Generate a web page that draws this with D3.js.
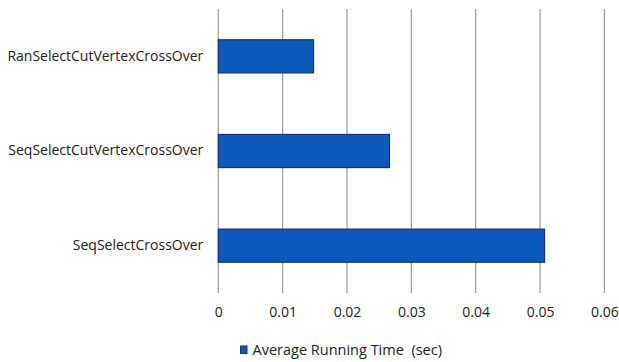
<!DOCTYPE html>
<html>
<head>
<meta charset="utf-8">
<script src="https://cdn.jsdelivr.net/npm/d3@7"></script>
<style>
  html, body { margin: 0; padding: 0; background: #fff; }
  svg { display: block; }
  text { font-family: "Open Sans", "Noto Sans", sans-serif; fill: #222; }
</style>
</head>
<body>
<svg id="chart" width="619" height="362"></svg>
<script>
// Average running time per crossover operator (seconds)
const categories = ["RanSelectCutVertexCrossOver", "SeqSelectCutVertexCrossOver", "SeqSelectCrossOver"];
const runningTime = [0.0148, 0.0266, 0.0507];
const tickValues = [0, 0.01, 0.02, 0.03, 0.04, 0.05, 0.06];
const tickLabels = ["0", "0.01", "0.02", "0.03", "0.04", "0.05", "0.06"];
const seriesName = "Average Running Time  (sec)";

const svg = d3.select("#chart");
const plot = { left: 218.3, right: 604.4, top: 9, bottom: 293 };

const x = d3.scaleLinear().domain([0, 0.06]).range([plot.left, plot.right]);
const y = d3.scaleBand().domain(categories).range([plot.top, plot.bottom]).padding(0);
const barH = y.bandwidth() * 0.35;

// vertical gridlines
svg.append("g")
  .selectAll("line")
  .data(tickValues)
  .join("line")
  .attr("x1", d => x(d)).attr("x2", d => x(d))
  .attr("y1", plot.top).attr("y2", plot.bottom)
  .attr("stroke", "#9a9a9a")
  .attr("stroke-width", 1.2);

// tick labels
const xAxis = d3.axisBottom(x).tickValues(tickValues).tickSize(0)
  .tickFormat((d, i) => tickLabels[i]);
const gx = svg.append("g").attr("transform", `translate(0,${plot.bottom + 11})`).call(xAxis);
gx.select(".domain").remove();
gx.selectAll("text").attr("font-size", 14).attr("font-family", "Open Sans, sans-serif").attr("fill", "#222");

// bars
svg.append("g")
  .selectAll("rect")
  .data(categories)
  .join("rect")
  .attr("x", x(0))
  .attr("y", d => y(d) + (y.bandwidth() - barH) / 2)
  .attr("width", (d, i) => x(runningTime[i]) - x(0))
  .attr("height", barH)
  .attr("fill", "#0b5abb")
  .attr("stroke", "#15347a")
  .attr("stroke-width", 1.2);

// category labels
const yAxis = d3.axisLeft(y).tickSize(0).tickPadding(15);
const gy = svg.append("g").attr("transform", `translate(${plot.left},0)`).call(yAxis);
gy.select(".domain").remove();
gy.selectAll("text").attr("font-size", 14).attr("font-family", "Open Sans, sans-serif").attr("fill", "#222");

// legend
const legend = svg.append("g").attr("transform", "translate(240.5,346)");
legend.append("rect").attr("width", 6.5).attr("height", 7.5)
  .attr("fill", "#0b5abb").attr("stroke", "#15347a").attr("stroke-width", 1);
legend.append("text").attr("x", 12).attr("y", 4).attr("dy", "0.35em")
  .attr("font-size", 14.5).attr("xml:space", "preserve").style("white-space", "pre").text(seriesName);
</script>
</body>
</html>
